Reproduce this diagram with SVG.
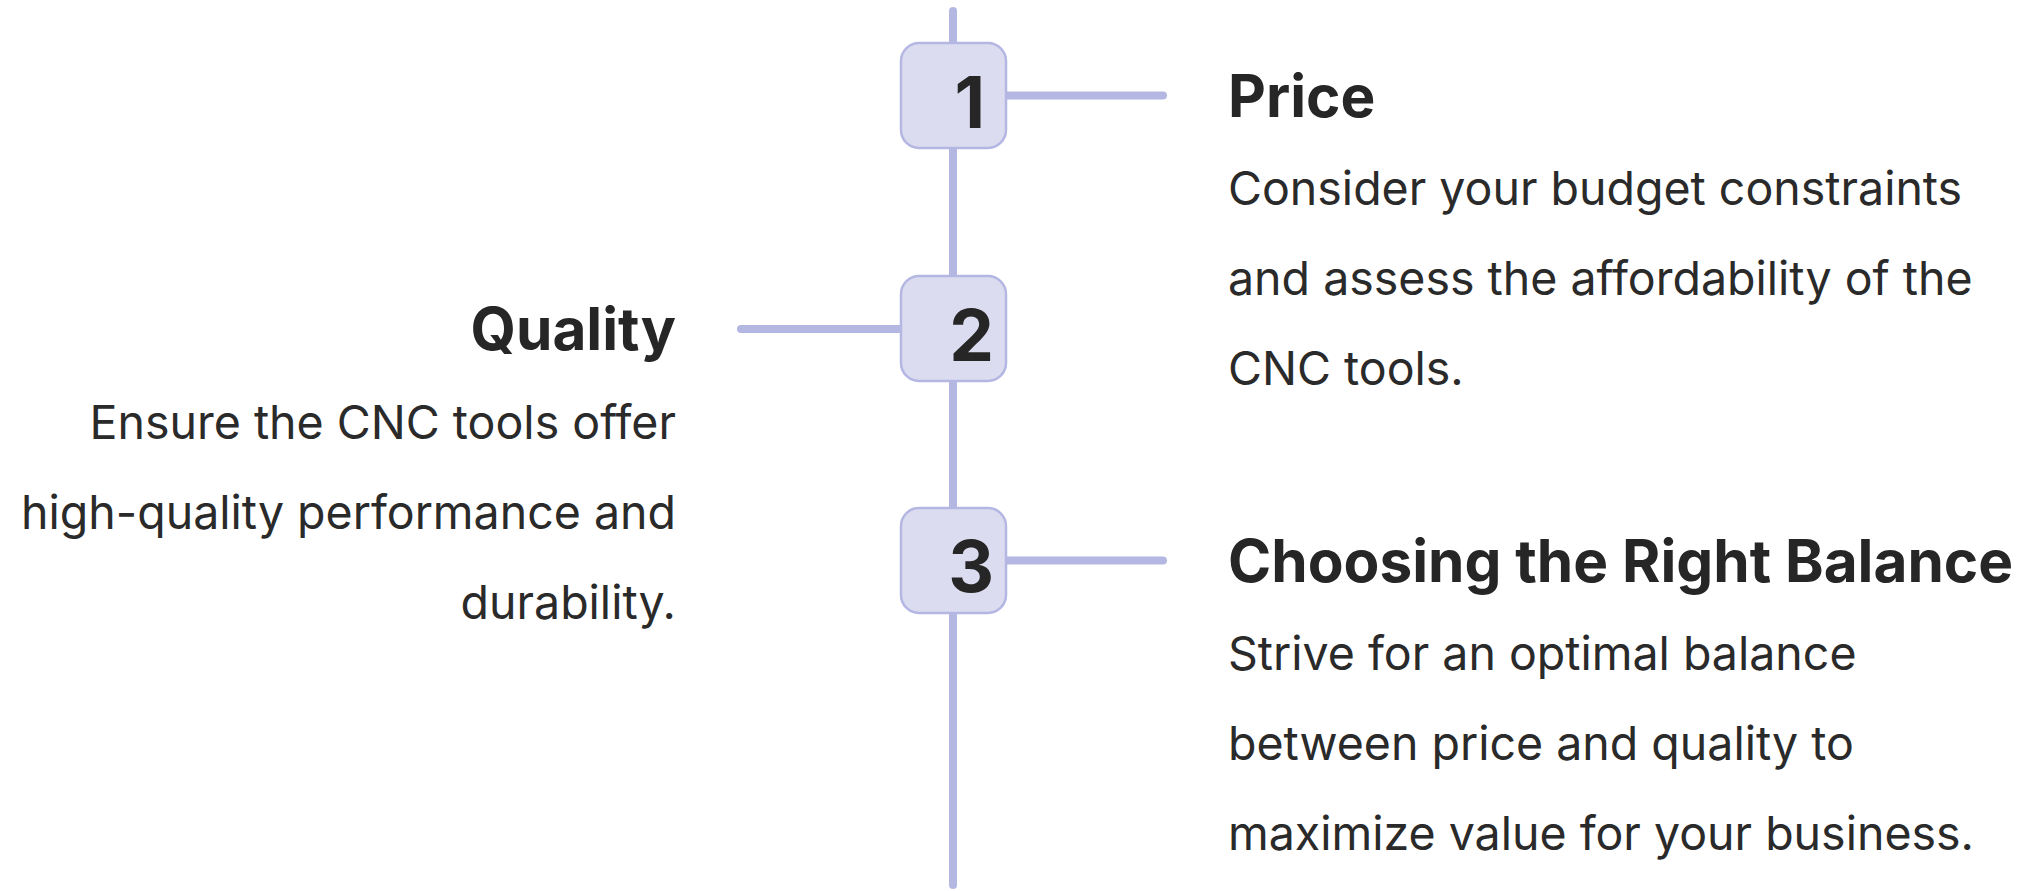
<svg xmlns="http://www.w3.org/2000/svg" width="2029" height="891" viewBox="0 0 2029 891">
<style>
.ln{stroke:#b4b7e2;stroke-width:8;stroke-linecap:round;fill:none}
.box{fill:#dcdcf1;stroke:#b4b7e2;stroke-width:2.5}
.num{font-family:Inter,"Liberation Sans",sans-serif;font-weight:700;font-size:71px;fill:#262626;text-anchor:end}
.ttl{font-family:Inter,"Liberation Sans",sans-serif;font-weight:700;font-size:58.5px;fill:#262626}
.body{font-family:Inter,"Liberation Sans",sans-serif;font-weight:400;font-size:46.5px;fill:#2a2a2a}
.r{text-anchor:end}
</style>
<rect width="2029" height="891" fill="#ffffff"/>
<g id="connectors">
<line class="ln" x1="953" y1="11" x2="953" y2="885"/>
<line class="ln" x1="1006" y1="95.5" x2="1163" y2="95.5"/>
<line class="ln" x1="741" y1="329" x2="900" y2="329"/>
<line class="ln" x1="1006" y1="560.5" x2="1163" y2="560.5"/>
</g>
<g id="node1">
<rect class="box" x="901" y="43" width="105" height="105" rx="18"/>
<text class="num" x="985" y="128">1</text>
</g>
<g id="node2">
<rect class="box" x="901" y="276" width="105" height="105" rx="18"/>
<text class="num" x="994" y="361">2</text>
</g>
<g id="node3">
<rect class="box" x="901" y="508" width="105" height="105" rx="18"/>
<text class="num" x="994" y="592">3</text>
</g>
<g id="text-price">
<text class="ttl" x="1228" y="117">Price</text>
<text class="body" x="1228" y="205">Consider your budget constraints</text>
<text class="body" x="1228" y="295">and assess the affordability of the</text>
<text class="body" x="1228" y="385">CNC tools.</text>
</g>
<g id="text-quality">
<text class="ttl r" x="676" y="350">Quality</text>
<text class="body r" x="676" y="439">Ensure the CNC tools offer</text>
<text class="body r" x="676" y="529">high-quality performance and</text>
<text class="body r" x="676" y="619">durability.</text>
</g>
<g id="text-balance">
<text class="ttl" x="1228" y="582">Choosing the Right Balance</text>
<text class="body" x="1228" y="670">Strive for an optimal balance</text>
<text class="body" x="1228" y="760">between price and quality to</text>
<text class="body" x="1228" y="850">maximize value for your business.</text>
</g>
</svg>
